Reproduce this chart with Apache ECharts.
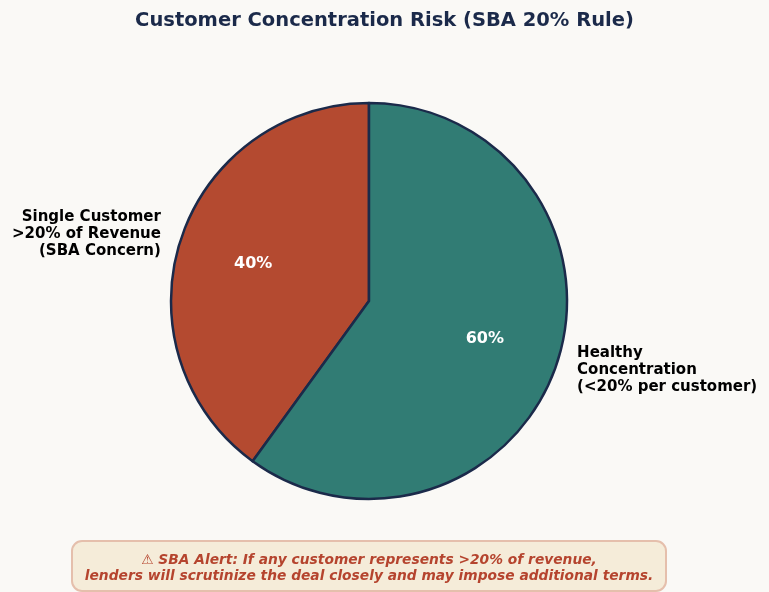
<!DOCTYPE html>
<html>
<head>
<meta charset="utf-8">
<script src="https://cdn.jsdelivr.net/npm/echarts@6/dist/echarts.min.js"></script>
<style>
    html, body { margin: 0; padding: 0; background: #faf9f6; }
    #chart { width: 769px; height: 592px; }
</style>
</head>
<body>
<div id="chart"></div>
<script>
// 数据
const categories = ['Single Customer\n>20% of Revenue\n(SBA Concern)', 'Healthy\nConcentration\n(<20% per customer)'];
const shares = [40, 60];
const sliceColors = ['#b44a30', '#317c74'];
const labelAlign = ['right', 'left'];

(function () {
    const dom = document.querySelector("#chart")
    const chart = echarts.init(dom)
    const R = 198
    const center = [369, 301]
    const font = 'DejaVu Sans, sans-serif'

    const option = {
        backgroundColor: '#faf9f6',
        animation: false,
        title: {
            text: 'Customer Concentration Risk (SBA 20% Rule)',
            left: 'center',
            top: 6,
            textStyle: {
                fontFamily: font,
                fontSize: 19.5,
                fontWeight: 'bold',
                color: '#1b2a4a'
            }
        },
        series: [
            {
                // 主饼图
                type: 'pie',
                radius: [0, R],
                center: center,
                startAngle: 90,
                clockwise: false,
                label: { show: false },
                labelLine: { show: false },
                itemStyle: { borderColor: '#1b2a4a', borderWidth: 2.5 },
                emphasis: { disabled: true },
                data: shares.map((v, i) => ({ value: v, name: categories[i], itemStyle: { color: sliceColors[i] } }))
            },
            {
                // 百分比标签 (0.6R)
                type: 'pie',
                radius: [0, R * 1.2],
                center: center,
                startAngle: 90,
                clockwise: false,
                silent: true,
                avoidLabelOverlap: false,
                itemStyle: { color: 'transparent', borderWidth: 0 },
                label: {
                    show: true,
                    position: 'inside',
                    formatter: p => Math.round(p.percent) + '%',
                    fontFamily: font,
                    fontSize: 16,
                    fontWeight: 'bold',
                    color: '#ffffff'
                },
                labelLine: { show: false },
                labelLayout: { hideOverlap: false },
                data: shares.map((v, i) => ({ value: v, name: categories[i] }))
            },
            {
                // 类别标签 (1.1R)
                type: 'pie',
                radius: [0, R * 2.2 - 4],
                center: center,
                startAngle: 90,
                clockwise: false,
                silent: true,
                avoidLabelOverlap: false,
                itemStyle: { color: 'transparent', borderWidth: 0 },
                label: {
                    show: true,
                    position: 'inside',
                    formatter: '{b}',
                    fontFamily: font,
                    fontSize: 15,
                    fontWeight: 'bold',
                    lineHeight: 17,
                    color: '#000000'
                },
                labelLine: { show: false },
                // 左侧右对齐，右侧左对齐
                labelLayout: function (params) {
                    const r = params.labelRect
                    return {
                        x: r.x + r.width / 2,
                        y: r.y + r.height / 2 + 1,
                        align: labelAlign[params.dataIndex],
                        verticalAlign: 'middle',
                        hideOverlap: false
                    }
                },
                data: shares.map((v, i) => ({ value: v, name: categories[i] }))
            }
        ],
        graphic: [
            {
                type: 'rect',
                shape: { x: 72, y: 541, width: 594, height: 50, r: 10 },
                style: { fill: '#f5ecd9', stroke: '#e5bfac', lineWidth: 2 }
            },
            {
                type: 'text',
                x: 369,
                y: 568,
                style: {
                    text: '⚠ SBA Alert: If any customer represents >20% of revenue,\nlenders will scrutinize the deal closely and may impose additional terms.',
                    align: 'center',
                    verticalAlign: 'middle',
                    font: 'italic bold 13.8px DejaVu Sans, sans-serif',
                    lineHeight: 16,
                    fill: '#b5442e'
                }
            }
        ]
    }
    chart.setOption(option)
    window.addEventListener("resize", () => {
        chart.resize()
    })
})();
</script>
</body>
</html>
